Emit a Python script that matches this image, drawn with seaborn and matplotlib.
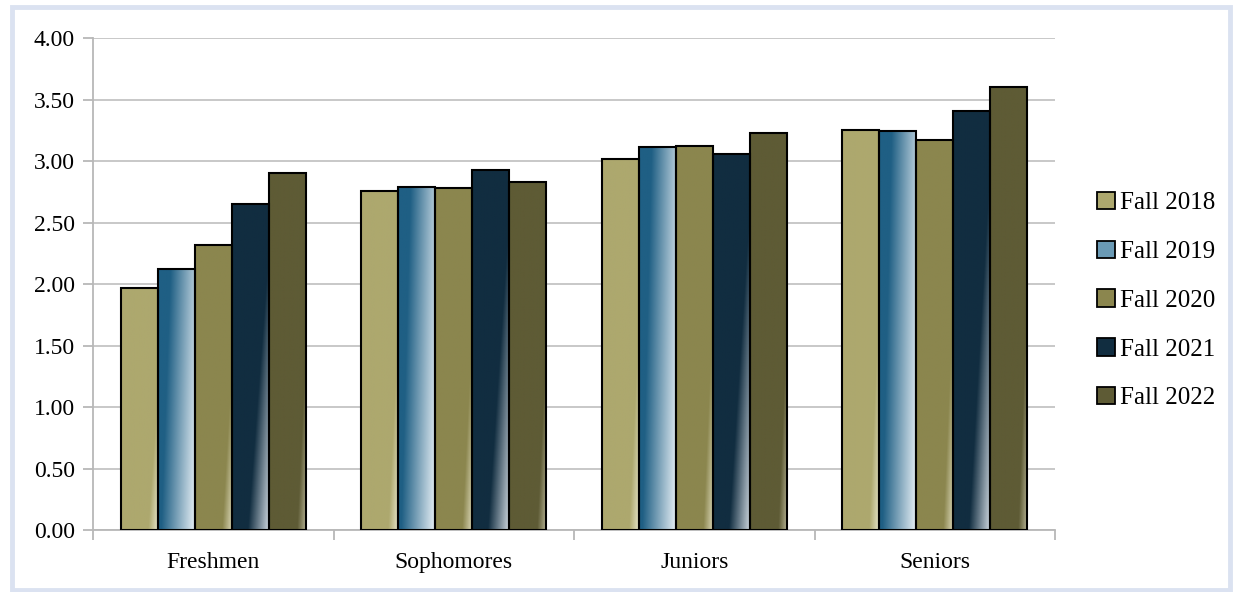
import numpy as np
import pandas as pd
import matplotlib.pyplot as plt
import matplotlib.patches as mpatches
from matplotlib.colors import to_rgb
import seaborn as sns

classes = ['Freshmen', 'Sophomores', 'Juniors', 'Seniors']
terms = ['Fall 2018', 'Fall 2019', 'Fall 2020', 'Fall 2021', 'Fall 2022']
fall_2018 = [1.97, 2.76, 3.02, 3.25]
fall_2019 = [2.12, 2.79, 3.11, 3.24]
fall_2020 = [2.32, 2.78, 3.12, 3.17]
fall_2021 = [2.65, 2.93, 3.06, 3.41]
fall_2022 = [2.90, 2.83, 3.23, 3.60]
yticks = [0, 0.5, 1, 1.5, 2, 2.5, 3, 3.5, 4]

colors = ['#ada86e', '#1f5f84', '#8b864e', '#112d40', '#5e5b35']
# gradient settings per series: start, tilt, span, light colour
grad = [(0.72, 0.45, 0.3, '#eeecd6'),
        (0.08, 0.25, 0.9, '#e6eff5'),
        (0.72, 0.45, 0.3, '#e4e1c4'),
        (0.42, 0.65, 0.55, '#c9d2da'),
        (0.75, 0.45, 0.3, '#cfccb0')]

df = pd.DataFrame({
    'Class': classes * 5,
    'Term': [t for t in terms for _ in classes],
    'GPA': fall_2018 + fall_2019 + fall_2020 + fall_2021 + fall_2022,
})

plt.rcParams['font.family'] = ['Liberation Serif', 'DejaVu Serif']
fig = plt.figure(figsize=(12.34, 5.92), dpi=100)
fig.patches.append(mpatches.Rectangle((0.010, 0.003), 0.987, 0.985, transform=fig.transFigure,
                                      fill=False, edgecolor='#dbe2f1', linewidth=3.5))
ax = fig.add_axes([0.0754, 0.1047, 0.7796, 0.8311])

sns.barplot(data=df, x='Class', y='GPA', hue='Term', palette=colors, width=0.77,
            edgecolor='black', linewidth=1.5, saturation=1, ax=ax, zorder=3)

# gradient fills
uu, vv = np.meshgrid(np.linspace(0, 1, 60), np.linspace(0, 1, 120))
for i, cont in enumerate(ax.containers):
    s, k, span, light = grad[i]
    c0 = np.array(to_rgb(colors[i]))
    c1 = np.array(to_rgb(light))
    for bar in cont:
        x, w, h = bar.get_x(), bar.get_width(), bar.get_height()
        t = np.clip((uu - s - k * vv) / span, 0, 1)[..., None]
        img = c0 * (1 - t) + c1 * t
        ax.imshow(img, extent=[x, x + w, 0, h], origin='lower', aspect='auto', zorder=2.5)
        bar.set_facecolor('none')

ax.set_xlim(-0.5, 3.5)
ax.set_ylim(0, 4)
ax.set_yticks(yticks)
ax.set_yticklabels([f'{v:.2f}' for v in yticks])
ax.set_xlabel('')
ax.set_ylabel('')
ax.grid(axis='y', color='#c4c4c4', linewidth=1.3, zorder=0)
ax.set_axisbelow(True)
for side in ['top', 'right']:
    ax.spines[side].set_visible(False)
for side in ['left', 'bottom']:
    ax.spines[side].set_color('#b8b8b8')
    ax.spines[side].set_linewidth(1.3)
ax.set_xticks([-0.5, 0.5, 1.5, 2.5, 3.5], minor=True)
ax.tick_params(axis='x', which='major', length=0, pad=16, labelsize=17)
ax.tick_params(axis='x', which='minor', length=7, color='#b8b8b8', width=1.3)
ax.tick_params(axis='y', length=7, color='#b8b8b8', width=1.3, pad=6, labelsize=17)

ax.get_legend().remove()
handles = [mpatches.Patch(facecolor=colors[i] if i != 1 else '#6a9ab5', edgecolor='black', linewidth=1.3)
           for i in range(5)]
fig.legend(handles, terms, loc='center left', bbox_to_anchor=(0.881, 0.492), frameon=False,
           fontsize=18, handlelength=0.7, handleheight=0.7, handletextpad=0.2,
           labelspacing=1.05, borderaxespad=0)

fig.savefig('out.png', dpi=100)
